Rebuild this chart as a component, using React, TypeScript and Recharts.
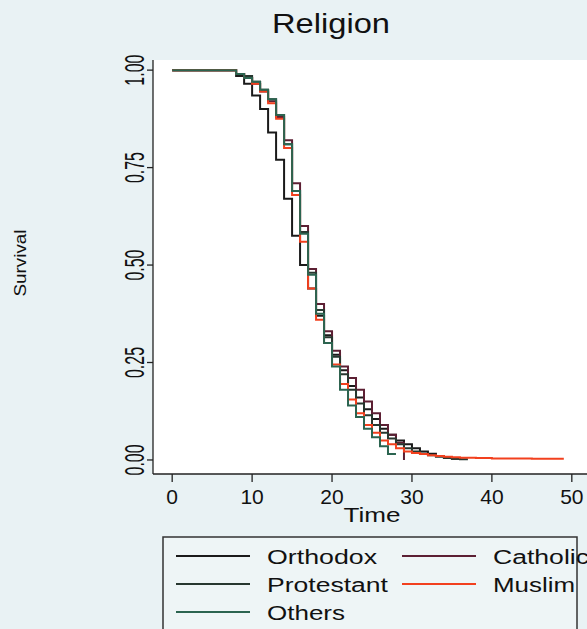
import { LineChart, Line, XAxis, YAxis, CartesianGrid } from "recharts";

const W = 587;
const H = 629;

const xTicks = [0, 10, 20, 30, 40, 50];
const yTicks = [0, 0.25, 0.5, 0.75, 1];

// Kaplan-Meier steps
const orthodoxTime = [0, 8, 9, 10, 11, 12, 13, 14, 15, 16, 17, 18, 19, 20, 21, 22, 23, 24, 25, 26, 27, 28, 29, 30, 31, 32, 33, 34, 35, 36];
const orthodoxSurv = [1, 0.985, 0.965, 0.935, 0.9, 0.84, 0.77, 0.67, 0.575, 0.5, 0.44, 0.37, 0.32, 0.27, 0.23, 0.19, 0.16, 0.13, 0.105, 0.08, 0.065, 0.05, 0.04, 0.03, 0.022, 0.016, 0.01, 0.006, 0.003, 0.003];

const catholicTime = [0, 8, 9, 10, 11, 12, 13, 14, 15, 16, 17, 18, 19, 20, 21, 22, 23, 24, 25, 26, 27, 28, 29];
const catholicSurv = [1, 0.99, 0.98, 0.965, 0.945, 0.92, 0.88, 0.82, 0.71, 0.6, 0.49, 0.4, 0.33, 0.28, 0.24, 0.21, 0.18, 0.15, 0.12, 0.09, 0.065, 0.044, 0];

const protestantTime = [0, 8, 9, 10, 11, 12, 13, 14, 15, 16, 17, 18, 19, 20, 21, 22, 23, 24, 25, 26, 27, 28, 29, 30, 31, 32, 33, 34, 35, 36, 37];
const protestantSurv = [1, 0.99, 0.985, 0.97, 0.95, 0.925, 0.885, 0.81, 0.69, 0.585, 0.48, 0.385, 0.315, 0.265, 0.22, 0.18, 0.145, 0.115, 0.09, 0.07, 0.055, 0.04, 0.03, 0.022, 0.016, 0.012, 0.008, 0.005, 0.003, 0.002, 0.002];

const muslimTime = [0, 8, 9, 10, 11, 12, 13, 14, 15, 16, 17, 18, 19, 20, 21, 22, 23, 24, 25, 26, 27, 28, 29, 30, 31, 32, 33, 34, 35, 36, 38, 40, 42, 45, 49];
const muslimSurv = [1, 0.99, 0.98, 0.965, 0.945, 0.915, 0.875, 0.8, 0.68, 0.56, 0.44, 0.36, 0.3, 0.245, 0.195, 0.155, 0.12, 0.09, 0.07, 0.05, 0.04, 0.03, 0.022, 0.018, 0.015, 0.012, 0.01, 0.008, 0.007, 0.006, 0.005, 0.004, 0.004, 0.003, 0.003];

const othersTime = [0, 8, 9, 10, 11, 12, 13, 14, 15, 16, 17, 18, 19, 20, 21, 22, 23, 24, 25, 26, 27, 28];
const othersSurv = [1, 0.99, 0.98, 0.97, 0.95, 0.925, 0.885, 0.81, 0.69, 0.58, 0.475, 0.375, 0.3, 0.24, 0.18, 0.14, 0.11, 0.08, 0.058, 0.035, 0.015, 0.015];

const series = [
  { name: "Orthodox", color: "#1a1a1a", time: orthodoxTime, surv: orthodoxSurv },
  { name: "Catholic", color: "#5c1f33", time: catholicTime, surv: catholicSurv },
  { name: "Protestant", color: "#27372f", time: protestantTime, surv: protestantSurv },
  { name: "Muslim", color: "#f2401e", time: muslimTime, surv: muslimSurv },
  { name: "Others", color: "#2b6450", time: othersTime, surv: othersSurv },
];

// legend slots: [col, row, text length]
const legendSlots = [
  [0, 0, 110],
  [1, 0, 96],
  [0, 1, 121],
  [1, 1, 82],
  [0, 2, 78],
];

const font = "'Liberation Sans', Arial, sans-serif";

function YTick({ x, y, payload }: any) {
  return (
    <text
      transform={`translate(${x - 3},${y}) rotate(-90)`}
      textAnchor="middle"
      fontSize={27}
      fontFamily={font}
      fill="#111"
      textLength={31}
      lengthAdjust="spacingAndGlyphs"
    >
      {payload.value.toFixed(2)}
    </text>
  );
}

export default function App() {
  return (
    <div style={{ position: "absolute", left: 0, top: 0, width: W, height: H, background: "#e9f2f4", overflow: "hidden" }}>
      <LineChart width={W} height={H} margin={{ top: 60, right: 0, bottom: 0, left: 0 }}>
        <CartesianGrid fill="#ffffff" horizontal={false} vertical={false} />
        <XAxis
          type="number"
          dataKey="t"
          domain={[-2.4, 51.9]}
          ticks={xTicks}
          allowDataOverflow
          height={155}
          tickSize={8}
          tickMargin={7}
          stroke="#222"
          strokeWidth={1.3}
          tick={{ fontSize: 21, fill: "#111", fontFamily: font }}
        />
        <YAxis
          type="number"
          domain={[-0.036, 1.026]}
          ticks={yTicks}
          allowDataOverflow
          width={153}
          tickSize={6}
          tickMargin={0}
          stroke="#222"
          strokeWidth={1.3}
          tick={<YTick />}
        />
        {series.map((s) => (
          <Line
            key={s.name}
            data={s.time.map((t, i) => ({ t, s: s.surv[i] }))}
            dataKey="s"
            name={s.name}
            type="stepAfter"
            stroke={s.color}
            strokeWidth={2}
            dot={false}
            isAnimationActive={false}
          />
        ))}
        <text x={331} y={33} textAnchor="middle" fontSize={28} fontFamily={font} fill="#111" textLength={118} lengthAdjust="spacingAndGlyphs">
          Religion
        </text>
        <text transform="translate(26,263) rotate(-90)" textAnchor="middle" fontSize={16} fontFamily={font} fill="#111" textLength={67} lengthAdjust="spacingAndGlyphs">
          Survival
        </text>
        <text x={372} y={522} textAnchor="middle" fontSize={21} fontFamily={font} fill="#111" textLength={57} lengthAdjust="spacingAndGlyphs">
          Time
        </text>
        <g>
          <rect x={163} y={537} width={414} height={110} fill="#eef5f6" stroke="#333" strokeWidth={1.5} />
          {series.map((s, i) => {
            const [col, row, len] = legendSlots[i];
            const lx = col === 0 ? 176 : 402;
            const ly = 556 + row * 28;
            const tx = col === 0 ? 267 : 493;
            return (
              <g key={s.name}>
                <line x1={lx} x2={lx + 74} y1={ly} y2={ly} stroke={s.color} strokeWidth={2} />
                <text x={tx} y={ly + 8} fontSize={20} fontFamily={font} fill="#111" textLength={len} lengthAdjust="spacingAndGlyphs">
                  {s.name}
                </text>
              </g>
            );
          })}
        </g>
      </LineChart>
    </div>
  );
}
